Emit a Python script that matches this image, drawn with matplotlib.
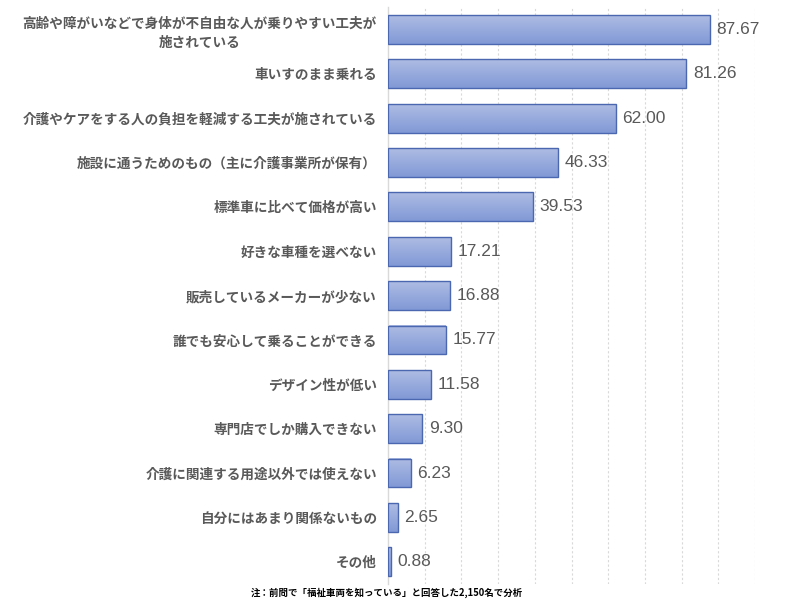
import numpy as np
import matplotlib.pyplot as plt
from matplotlib.colors import LinearSegmentedColormap

plt.rcParams['font.family'] = ['Noto Sans CJK JP', 'DejaVu Sans']

# Data
labels = [
    "高齢や障がいなどで身体が不自由な人が乗りやすい工夫が\n施されている",
    "車いすのまま乗れる",
    "介護やケアをする人の負担を軽減する工夫が施されている",
    "施設に通うためのもの（主に介護事業所が保有）",
    "標準車に比べて価格が高い",
    "好きな車種を選べない",
    "販売しているメーカーが少ない",
    "誰でも安心して乗ることができる",
    "デザイン性が低い",
    "専門店でしか購入できない",
    "介護に関連する用途以外では使えない",
    "自分にはあまり関係ないもの",
    "その他",
]
values = [87.67, 81.26, 62.00, 46.33, 39.53, 17.21, 16.88, 15.77, 11.58, 9.30, 6.23, 2.65, 0.88]
note = "注：前問で「福祉車両を知っている」と回答した2,150名で分析"

fig = plt.figure(figsize=(8, 6.02), dpi=100)
ax = fig.add_axes([0.485, 0.03, 0.459, 0.958])

n = len(values)
y = np.arange(n)
bar_h = 0.65
grad = LinearSegmentedColormap.from_list('g', ['#aebce3', '#8199d6'])

bars = ax.barh(y, values, height=bar_h, color='none', edgecolor='#4a67b0', linewidth=1.0, zorder=3)
for rect in bars:
    x0, y0 = rect.get_x(), rect.get_y()
    w, h = rect.get_width(), rect.get_height()
    ax.imshow(np.linspace(0, 1, 50).reshape(-1, 1), cmap=grad, aspect='auto',
              extent=(x0, x0 + w, y0 + h, y0), origin='upper', zorder=2)

for yi, v in zip(y, values):
    ax.text(v + 1.8, yi, f"{v:.2f}", va='center', ha='left', fontsize=12.5,
            color='#595959', family=['Liberation Sans', 'DejaVu Sans'])

ax.set_xlim(0, 100)
ax.set_ylim(n - 0.5, -0.5)
ax.set_yticks(y)
ax.set_yticklabels(labels, fontsize=9.8, fontweight='bold', color='#595959',
                   multialignment='center', linespacing=1.45)
ax.tick_params(axis='y', length=0, pad=8)
ax.set_xticks(np.arange(10, 101, 10))
ax.tick_params(axis='x', length=0, labelbottom=False)
ax.grid(axis='x', color='#d9d9d9', linestyle=(0, (2, 2)), linewidth=0.8, zorder=0)

for s in ['top', 'right', 'bottom']:
    ax.spines[s].set_visible(False)
ax.spines['left'].set_color('#d9d9d9')
ax.spines['left'].set_linewidth(1)

fig.text(0.484, 0.016, note, ha='center', va='center', fontsize=6.8, fontweight='bold', color='black')

fig.savefig('out.png', dpi=100)
